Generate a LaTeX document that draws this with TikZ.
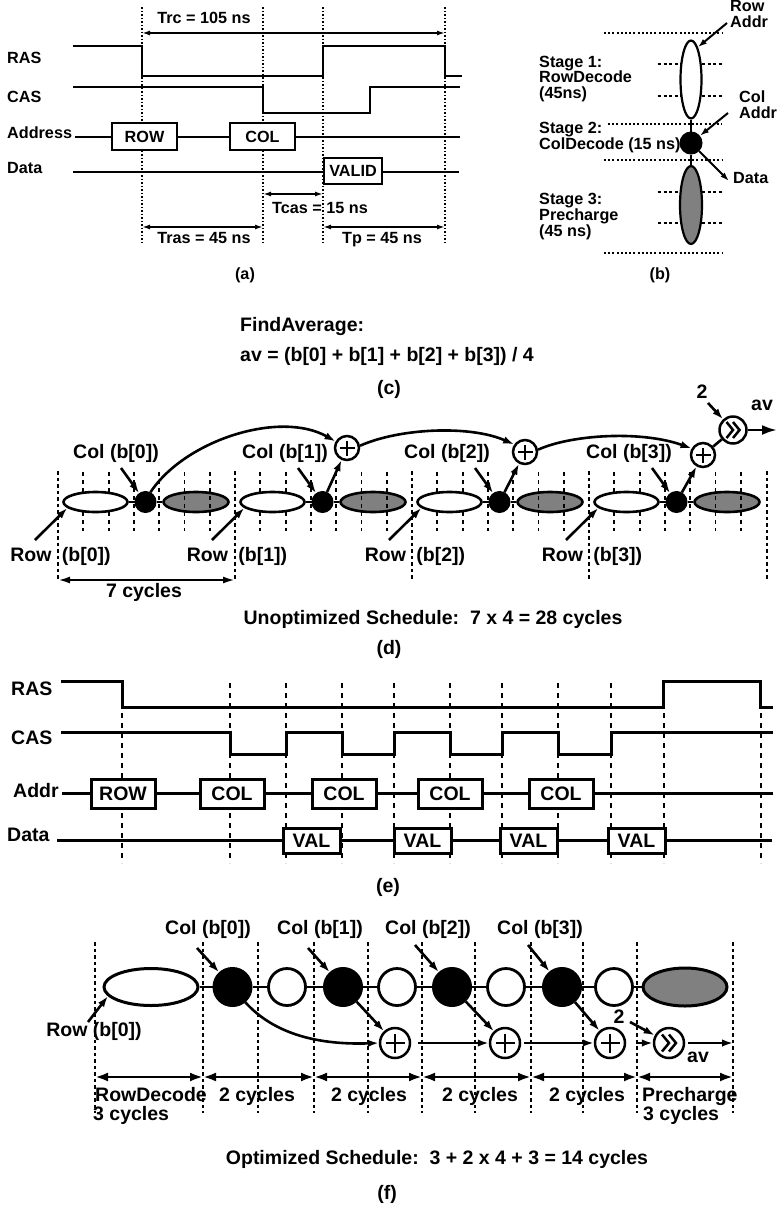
\documentclass[tikz,border=0pt]{standalone}
\usepackage{fontspec}
\setmainfont{Liberation Sans}
\usetikzlibrary{shapes.geometric,arrows.meta}
\newcommand\plusmark[2]{\draw[line width=2.8pt] ([xshift=-#2pt]#1.center) -- ([xshift=#2pt]#1.center) ([yshift=-#2pt]#1.center) -- ([yshift=#2pt]#1.center);}
\newcommand\shiftmark[3]{\draw[line width=2.5pt, line join=miter]
  ([xshift=-#2pt,yshift=#3pt]#1.center) -- (#1.center) -- ([xshift=-#2pt,yshift=-#3pt]#1.center)
  ([yshift=#3pt]#1.center) -- ([xshift=#2pt]#1.center) -- ([yshift=-#3pt]#1.center);}
\begin{document}
\begin{tikzpicture}[x=1pt,y=-1pt,
  fa/.style={font=\fontsize{16.2}{18}\selectfont\bfseries, inner sep=0pt},
  fb/.style={font=\fontsize{19.5}{22}\selectfont\bfseries, inner sep=0pt},
  siga/.style={line width=2.2pt},
  sige/.style={line width=3pt},
  boxa/.style={draw, fill=white, line width=2.2pt, inner sep=0pt, fa},
  boxe/.style={draw, fill=white, line width=3pt, inner sep=0pt, fb},
  dota/.style={line width=1.1pt, dash pattern=on 1.5pt off 2pt},
  dima/.style={line width=1.6pt, {Latex[length=8pt,width=5pt]}-{Latex[length=8pt,width=5pt]}},
  hdotb/.style={line width=2.2pt, dash pattern=on 2pt off 2.2pt},
  hdashb/.style={line width=1.1pt, dash pattern=on 3pt off 2.5pt},
  arrb/.style={line width=2pt, -{Latex[length=9pt,width=6pt]}},
  conn/.style={line width=2.6pt},
  arrd/.style={line width=2.6pt, -{Latex[length=11pt,width=7.5pt]}},
  bnd/.style={line width=1.8pt, dash pattern=on 3.5pt off 3pt},
  tck/.style={line width=1.8pt, dash pattern=on 4pt off 4pt},
  dimd/.style={line width=2.2pt, {Latex[length=12pt,width=7pt]}-{Latex[length=12pt,width=7pt]}},
  whiteell/.style={ellipse, draw, fill=white, line width=2.6pt, inner sep=0pt},
  grayell/.style={ellipse, draw, fill=black!50, line width=2.6pt, inner sep=0pt},
  blackdot/.style={circle, draw, fill=black, line width=1pt, inner sep=0pt},
  opnode/.style={circle, draw, fill=white, line width=2.5pt, inner sep=0pt},
  dashe/.style={line width=1.8pt, dash pattern=on 5pt off 5pt},
  dimf/.style={line width=2.8pt, {Latex[length=13pt,width=9pt]}-{Latex[length=13pt,width=9pt]}},
]
\useasboundingbox (0,0) rectangle (777,1205);

% ================= (a) =================
\foreach \X in {142,263,323,445} \draw[dota] (\X,7) -- (\X,243);
\node[fa, anchor=base] (trc) at (204,23) {Trc = 105 ns};
\coordinate (trcL) at (142,33); \coordinate (trcR) at (445,33);
\draw[dima] (trcL) -- (trcR);
\node[fa, anchor=base west] (aras) at (7,63) {RAS};
\draw[siga] (73,46) -- (142,46) -- (142,76) -- (323,76) -- (323,46) -- (445,46) -- (445,76) -- (462,76);
\node[fa, anchor=base west] (acas) at (7,102) {CAS};
\draw[siga] (73,87) -- (263,87) -- (263,113) -- (370,113) -- (370,87) -- (460,87);
\node[fa, anchor=base west] (aaddr) at (7,138) {Address};
\draw[siga] (75,137) -- (460,137);
\node[boxa, minimum width=65pt, minimum height=27pt] (arow) at (144.5,136.5) {ROW};
\node[boxa, minimum width=65pt, minimum height=27pt] (acol) at (262.5,136.5) {COL};
\node[fa, anchor=base west] (adata) at (7,173) {Data};
\draw[siga] (73,172) -- (459,172);
\node[boxa, minimum width=58pt, minimum height=26pt] (avalid) at (353,171) {VALID};
\coordinate (tcL) at (263,194); \coordinate (tcR) at (323,194);
\draw[dima] (tcL) -- (tcR);
\node[fa, anchor=base] (tcas) at (320,213) {Tcas = 15 ns};
\coordinate (trL) at (142,227); \coordinate (trR) at (263,227);
\draw[dima] (trL) -- (trR);
\node[fa, anchor=base] (tras) at (204,243) {Tras = 45 ns};
\coordinate (tpL) at (323,227); \coordinate (tpR) at (445,227);
\draw[dima] (tpL) -- (tpR);
\node[fa, anchor=base] (tp) at (382,243) {Tp = 45 ns};
\node[fa, anchor=base] (la) at (245,279) {(a)};

% ================= (b) =================
\foreach \Y/\A in {33/604,124/608,160/604,253/604} \draw[hdotb] (\A,\Y) -- (722,\Y);
\foreach \Y in {64,96,192,223} \draw[hdashb] (658,\Y) -- (723,\Y);
\node[whiteell, line width=2.2pt, minimum width=21pt, minimum height=78pt] (bw) at (691,79.5) {};
\node[blackdot, minimum size=22pt] (bb) at (691,143) {};
\node[grayell, line width=2.2pt, minimum width=22pt, minimum height=78pt] (bg) at (691,205) {};
\draw[line width=1.8pt] (bw) -- (bb) -- (bg);
\node[fa, anchor=base west] (brow) at (730,11.5) {Row};
\node[fa, anchor=base west] (braddr) at (730,27) {Addr};
\coordinate (brs) at (727,23);
\draw[arrb] (brs) -- (bw.78);
\node[fa, anchor=base west] (bcol) at (739,102) {Col};
\node[fa, anchor=base west] (bcaddr) at (739,118) {Addr};
\coordinate (bcs) at (728,113);
\draw[arrb] (bcs) -- (bb);
\coordinate (bde) at (729,181);
\draw[arrb] (bb) -- (bde);
\node[fa, anchor=base west] (bdata) at (733,183) {Data};
\node[fa, anchor=base west] (bs1) at (539,67) {Stage 1:};
\node[fa, anchor=base west] (bs1b) at (539,82.5) {RowDecode};
\node[fa, anchor=base west] (bs1c) at (539,98) {(45ns)};
\node[fa, anchor=base west] (bs2) at (539,133.5) {Stage 2:};
\node[fa, anchor=base west] (bs2b) at (539,149.5) {ColDecode (15 ns)};
\node[fa, anchor=base west] (bs3) at (539,204) {Stage 3:};
\node[fa, anchor=base west] (bs3b) at (539,220) {Precharge};
\node[fa, anchor=base west] (bs3c) at (539,236) {(45 ns)};
\node[fa, anchor=base] (lb) at (660,279) {(b)};

% ================= (c) =================
\node[fb, anchor=base west] (cfa) at (240,331) {FindAverage:};
\node[fb, anchor=base west] (cav) at (240,361) {av = (b[0] + b[1] + b[2] + b[3]) / 4};
\node[fb, anchor=base] (lc) at (389,394) {(c)};

% ================= (d) =================
\foreach \X in {58,235,412,589,767} \draw[bnd] (\X,471) -- (\X,580);
\foreach \i/\X in {0/58,1/235,2/412,3/589} {
  \node[grayell, minimum width=65pt, minimum height=20pt] (dg\i) at ({\X+138},502) {};
}
\foreach \X in {58,235,412,589} \foreach \k in {1,...,6} \draw[tck] ({\X+\k*25.3},472) -- ({\X+\k*25.3},531);
\foreach \i/\X in {0/58,1/235,2/412,3/589} {
  \node[whiteell, minimum width=64pt, minimum height=20pt] (dw\i) at ({\X+37.5},502) {};
  \node[blackdot, minimum size=21pt] (db\i) at ({\X+87.5},502) {};
  \draw[conn] (dw\i) -- (db\i) -- (dg\i);
  \coordinate (drs\i) at ({\X-23},540);
  \draw[arrd] (drs\i) -- (dw\i.192);
  \coordinate (dcs\i) at ({\X+63},468);
  \draw[arrd] (dcs\i) -- (db\i);
}
\node[fb, anchor=base] (dc0) at (116,458) {Col (b[0])};
\node[fb, anchor=base] (dc1) at (285,458) {Col (b[1])};
\node[fb, anchor=base] (dc2) at (447,458) {Col (b[2])};
\node[fb, anchor=base] (dc3) at (629,458) {Col (b[3])};
\node[fb, anchor=base] (dr0) at (60.5,561) {Row\hspace{5pt} (b[0])};
\node[fb, anchor=base] (dr1) at (237,561) {Row\hspace{5pt} (b[1])};
\node[fb, anchor=base] (dr2) at (415,561) {Row\hspace{5pt} (b[2])};
\node[fb, anchor=base] (dr3) at (592,561) {Row\hspace{5pt} (b[3])};
\node[opnode, minimum size=24pt] (dp1) at (347,448) {};
\node[opnode, minimum size=24pt] (dp2) at (525,452) {};
\node[opnode, minimum size=24pt] (dp3) at (703,455) {};
\node[opnode, minimum size=27pt] (ds) at (733,430) {};
\plusmark{dp1}{7.5}
\plusmark{dp2}{7.5}
\plusmark{dp3}{7.5}
\shiftmark{ds}{6.5}{8}
\draw[arrd] (db1) -- (dp1);
\draw[arrd] (db2) -- (dp2);
\draw[arrd] (db3) -- (dp3);
\draw[arrd] (db0.63) .. controls (185,440) and (280,410) .. (dp1.150);
\draw[arrd] (dp1.10) .. controls (400,428) and (470,425) .. (dp2.145);
\draw[arrd] (dp2.10) .. controls (570,435) and (640,430) .. (dp3.150);
\draw[conn] (dp3) -- (ds);
\node[fb, anchor=base] (d2) at (702,398) {2};
\coordinate (d2s) at (708,403);
\draw[arrd] (d2s) -- (ds);
\coordinate (dout) at (777,430);
\draw[line width=2.6pt, -{Latex[length=15pt,width=10pt]}] (ds) -- (dout);
\node[fb, anchor=base] (dav) at (762,410) {av};
\coordinate (d7L) at (58,580); \coordinate (d7R) at (235,580);
\draw[dimd] (d7L) -- (d7R);
\node[fb, anchor=base] (d7c) at (144,597) {7 cycles};
\node[fb, anchor=base] (dun) at (433,624) {Unoptimized Schedule:\ \ 7 x 4 = 28 cycles};
\node[fb, anchor=base] (ld) at (389,654) {(d)};

% ================= (e) =================
\foreach \X in {122,230,286,342,394,450,502,558,611,664,761} \draw[dashe] (\X,683) -- (\X,863);
\node[fb, anchor=base west] (eras) at (11,695) {RAS};
\draw[sige] (61,681) -- (122,681) -- (122,707) -- (663,707) -- (663,681) -- (760,681) -- (760,707) -- (773,707);
\node[fb, anchor=base west] (ecas) at (11,744) {CAS};
\draw[sige] (61,732) -- (230,732) -- (230,754) -- (286,754) -- (286,732) -- (342,732) -- (342,754) -- (394,754) -- (394,732) -- (450,732) -- (450,754) -- (502,754) -- (502,732) -- (558,732) -- (558,754) -- (611,754) -- (611,732) -- (773,732);
\node[fb, anchor=base west] (eaddr) at (13,797) {Addr};
\draw[sige] (62,793.5) -- (773,793.5);
\node[boxe, minimum width=64pt, minimum height=29pt] (erow) at (123,793.5) {ROW};
\node[boxe, minimum width=64pt, minimum height=29pt] (ecol1) at (232,793.5) {COL};
\node[boxe, minimum width=64pt, minimum height=29pt] (ecol2) at (344,793.5) {COL};
\node[boxe, minimum width=64pt, minimum height=29pt] (ecol3) at (450,793.5) {COL};
\node[boxe, minimum width=64pt, minimum height=29pt] (ecol4) at (561,793.5) {COL};
\node[fb, anchor=base west] (edata) at (7,841) {Data};
\draw[sige] (57,840.5) -- (772,840.5);
\node[boxe, minimum width=57pt, minimum height=25pt] (eval1) at (311.5,840.5) {VAL};
\node[boxe, minimum width=57pt, minimum height=25pt] (eval2) at (422.5,840.5) {VAL};
\node[boxe, minimum width=57pt, minimum height=25pt] (eval3) at (528.5,840.5) {VAL};
\node[boxe, minimum width=57pt, minimum height=25pt] (eval4) at (636.5,840.5) {VAL};
\node[fb, anchor=base] (le) at (388,892) {(e)};

% ================= (f) =================
\foreach \X in {95,203,258,314,368,422,475,531,583,637,733} \draw[bnd] (\X,942) -- (\X,1113);
\node[whiteell, line width=3pt, minimum width=94pt, minimum height=37pt] (fw) at (151,987) {};
\node[blackdot, minimum size=39pt] (fk1) at (232.5,987) {};
\node[opnode, line width=2.8pt, minimum size=37pt] (fo1) at (287,987) {};
\node[blackdot, minimum size=39pt] (fk2) at (343,987) {};
\node[opnode, line width=2.8pt, minimum size=37pt] (fo2) at (397,987) {};
\node[blackdot, minimum size=39pt] (fk3) at (452,987) {};
\node[opnode, line width=2.8pt, minimum size=37pt] (fo3) at (506,987) {};
\node[blackdot, minimum size=39pt] (fk4) at (562,987) {};
\node[opnode, line width=2.8pt, minimum size=37pt] (fo4) at (614,987) {};
\node[grayell, line width=3pt, minimum width=84pt, minimum height=38pt] (fg) at (685,987) {};
\draw[conn] (fw) -- (fk1) -- (fo1) -- (fk2) -- (fo2) -- (fk3) -- (fo3) -- (fk4) -- (fo4) -- (fg);
\node[opnode, minimum size=30pt] (fp1) at (395,1043) {};
\node[opnode, minimum size=30pt] (fp2) at (505,1043) {};
\node[opnode, minimum size=30pt] (fp3) at (610,1043) {};
\node[opnode, minimum size=30pt] (fs) at (669,1043) {};
\plusmark{fp1}{9.5}
\plusmark{fp2}{9.5}
\plusmark{fp3}{9.5}
\shiftmark{fs}{7}{8.5}
\node[fb, anchor=base] (fc0) at (208,934) {Col (b[0])};
\node[fb, anchor=base] (fc1) at (320,934) {Col (b[1])};
\node[fb, anchor=base] (fc2) at (428,934) {Col (b[2])};
\node[fb, anchor=base] (fc3) at (540,934) {Col (b[3])};
\coordinate (fcs0) at (197,948); \draw[arrd] (fcs0) -- (fk1);
\coordinate (fcs1) at (308,948); \draw[arrd] (fcs1) -- (fk2);
\coordinate (fcs2) at (415,945); \draw[arrd] (fcs2) -- (fk3);
\coordinate (fcs3) at (528,945); \draw[arrd] (fcs3) -- (fk4);
\node[fb, anchor=base] (fr0) at (94,1036) {Row (b[0])};
\coordinate (frs0) at (88,1022); \draw[arrd] (frs0) -- (fw.192);
\draw[arrd] (fk1.-50) .. controls (275,1035) and (320,1045) .. (fp1.west);
\draw[arrd] (fk2) -- (fp1);
\draw[arrd] (fk3) -- (fp2);
\draw[arrd] (fk4) -- (fp3);
\draw[arrd, shorten <=7pt] (fp1) -- (fp2);
\draw[arrd, shorten <=3pt] (fp2) -- (fp3);
\draw[arrd, shorten <=10pt] (fp3) -- (fs);
\node[fb, anchor=base] (f2) at (619,1023) {2};
\coordinate (f2s) at (630,1022); \draw[arrd] (f2s) -- (fs);
\coordinate (fout) at (733,1043);
\draw[arrd, shorten <=3pt] (fs) -- (fout);
\node[fb, anchor=base] (fav) at (698,1062) {av};
\foreach \A/\B in {95/203,203/314,314/422,422/531,531/637,637/733} \draw[dimf] (\A,1077) -- (\B,1077);
\node[fb, anchor=base west] (frd) at (95,1101) {RowDecode};
\node[fb, anchor=base west] (frd2) at (93,1120) {3 cycles};
\node[fb, anchor=base] (fcy1) at (257,1101) {2 cycles};
\node[fb, anchor=base] (fcy2) at (369,1101) {2 cycles};
\node[fb, anchor=base] (fcy3) at (480,1101) {2 cycles};
\node[fb, anchor=base] (fcy4) at (587,1101) {2 cycles};
\node[fb, anchor=base west] (fpc) at (642,1101) {Precharge};
\node[fb, anchor=base west] (fpc2) at (643,1120) {3 cycles};
\node[fb, anchor=base] (fopt) at (437,1164) {Optimized Schedule:\ \ 3 + 2 x 4 + 3 = 14 cycles};
\node[fb, anchor=base] (lf) at (387,1199) {(f)};
\end{tikzpicture}
\end{document}
